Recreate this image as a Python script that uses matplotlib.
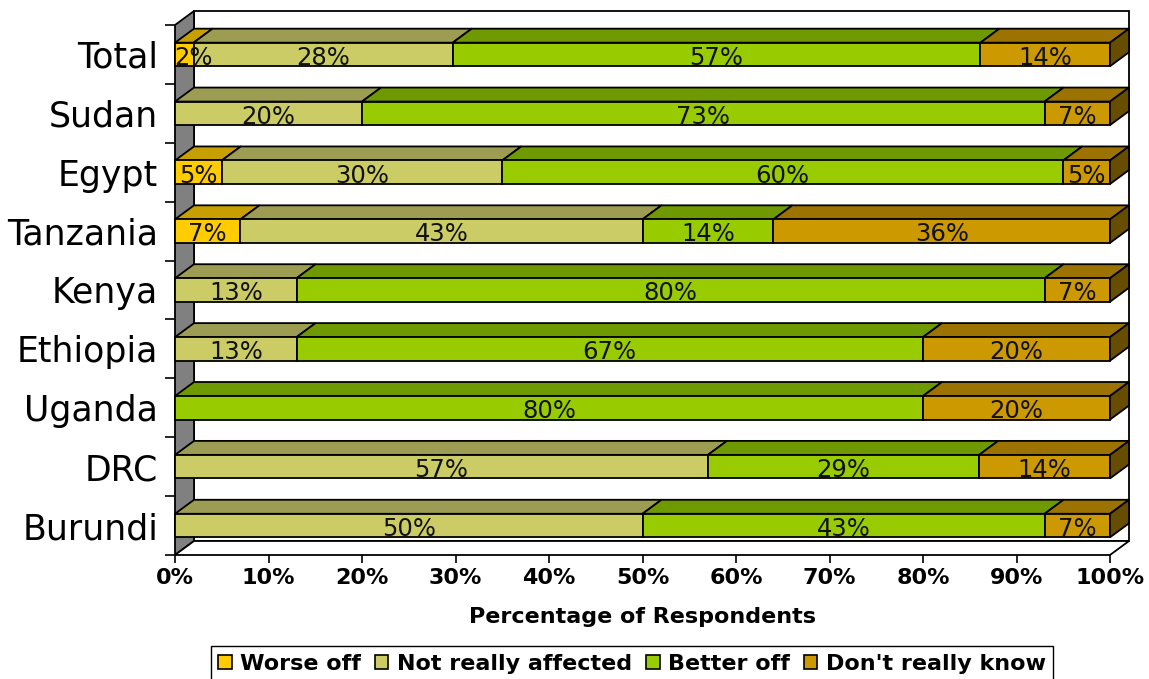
import matplotlib

matplotlib.use("Agg")
import matplotlib.pyplot as plt
from matplotlib.patches import Polygon, Patch
import numpy as np

countries = ["Total", "Sudan", "Egypt", "Tanzania", "Kenya", "Ethiopia", "Uganda", "DRC", "Burundi"]
responses = ["Worse off", "Not really affected", "Better off", "Don't really know"]
worse_off = [2, 0, 5, 7, 0, 0, 0, 0, 0]
not_affected = [28, 20, 30, 43, 13, 13, 0, 57, 50]
better_off = [57, 73, 60, 14, 80, 67, 80, 29, 43]
dont_know = [14, 7, 5, 36, 7, 20, 20, 14, 7]

front_colors = ["#ffcc00", "#cccc66", "#99cc00", "#cc9900"]
top_colors = ["#c89f00", "#9c9c52", "#6f9900", "#9c7300"]
side_colors = ["#806600", "#666633", "#4d6600", "#664d00"]

plt.rcParams["font.family"] = ["DejaVu Sans"]

W, H = 1149, 679
fig = plt.figure(figsize=(W / 100, H / 100), dpi=100)
fig.patch.set_facecolor("white")
ax = fig.add_axes([175 / W, 124 / H, 935 / W, 530 / H])
ax.set_xlim(0, 100)
ax.set_ylim(-0.5, len(countries) - 0.5)
for s in ax.spines.values():
    s.set_visible(False)

# oblique depth of the 3D box, in data units
dx = 19 / 935 * 100
dy = 14 / 530 * len(countries)
lw = 1.3
ytop = len(countries) - 0.5


def poly(pts, fc, z):
    ax.add_patch(Polygon(pts, closed=True, facecolor=fc, edgecolor="black",
                         linewidth=lw, joinstyle="miter", clip_on=False, zorder=z))


# walls and floor
poly([(dx, -0.5 + dy), (100 + dx, -0.5 + dy), (100 + dx, ytop + dy), (dx, ytop + dy)], "white", 1)
poly([(0, -0.5), (0, ytop), (dx, ytop + dy), (dx, -0.5 + dy)], "#808080", 1)
poly([(0, -0.5), (100, -0.5), (100 + dx, -0.5 + dy), (dx, -0.5 + dy)], "white", 1)

data = np.array([worse_off, not_affected, better_off, dont_know], dtype=float)
shares = data / data.sum(axis=0) * 100
h = 0.2

for i, name in enumerate(countries):
    y = len(countries) - 1 - i
    left = 0.0
    last = max(k for k in range(4) if shares[k, i] > 0)
    for k in range(4):
        w = shares[k, i]
        if w <= 0:
            continue
        right = left + w
        # top face
        poly([(left, y + h), (right, y + h), (right + dx, y + h + dy), (left + dx, y + h + dy)],
             top_colors[k], 2)
        # front face
        poly([(left, y - h), (right, y - h), (right, y + h), (left, y + h)], front_colors[k], 3)
        if k == last:
            poly([(right, y - h), (right + dx, y - h + dy), (right + dx, y + h + dy), (right, y + h)],
                 side_colors[k], 3)
        cx = max((left + right) / 2, 2.0)
        ax.text(cx, y - h + 0.025, f"{int(data[k, i])}%", ha="center", va="baseline",
                fontsize=17.5, color="#111111", zorder=5)
        left = right

ax.set_yticks(range(len(countries)))
ax.set_yticklabels(countries[::-1], fontsize=25)
ax.set_yticks(np.arange(-0.5, len(countries), 1), minor=True)
ax.tick_params(axis="y", which="major", length=0, pad=12)
ax.tick_params(axis="y", which="minor", length=7, width=1.2, direction="out")

ax.set_xticks(range(0, 101, 10))
ax.set_xticklabels([f"{v}%" for v in range(0, 101, 10)], fontsize=16, fontweight="bold")
ax.tick_params(axis="x", which="major", length=6, width=1.2, direction="out", pad=3)
ax.set_xlabel("Percentage of Respondents", fontsize=16, fontweight="bold", labelpad=14)

handles = [Patch(facecolor=c, edgecolor="black", linewidth=1.2) for c in front_colors]
fig.legend(handles, responses, loc="upper center", bbox_to_anchor=(632 / W, 1 - 646 / H),
           ncol=4, frameon=True, fancybox=False, edgecolor="black", framealpha=1,
           handlelength=0.6, handleheight=0.6, handletextpad=0.37, columnspacing=0.65,
           borderpad=0.35, borderaxespad=0, prop={"weight": "bold", "size": 16})

fig.savefig("out.png", dpi=100, facecolor="white")
